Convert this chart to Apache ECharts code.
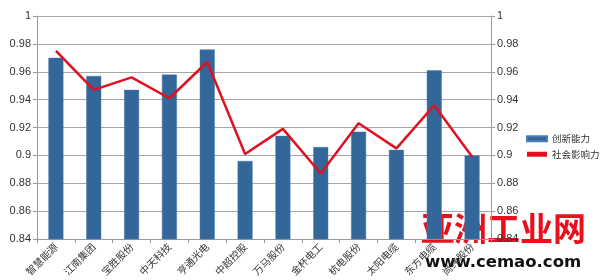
<!DOCTYPE html>
<html>
<head>
<meta charset="utf-8">
<style>
  html, body { margin: 0; padding: 0; background: #fff; }
  #chart { width: 600px; height: 280px; }
</style>
<script src="https://cdn.jsdelivr.net/npm/echarts@6/dist/echarts.min.js"></script>
</head>
<body>
<div id="chart"></div>
<script>
  // companies along the x axis
  var categories = ['智慧能源', '江南集团', '宝胜股份', '中天科技', '亨通光电', '中超控股',
    '万马股份', '金杯电工', '杭电股份', '太阳电缆', '东方电缆', '尚纬股份']
  // 创新能力 (bars)
  var innovation = [0.970, 0.957, 0.947, 0.958, 0.976, 0.896, 0.914, 0.906, 0.917, 0.904, 0.961, 0.900]
  // 社会影响力 (line)
  var influence = [0.975, 0.947, 0.956, 0.941, 0.967, 0.901, 0.919, 0.887, 0.923, 0.905, 0.936, 0.899]
  var axisMin = 0.84
  var axisMax = 1
  var axisStep = 0.02

  var chart = echarts.init(document.getElementById('chart'))

  var labelFont = {
    fontFamily: 'Liberation Sans, Arial, sans-serif',
    fontSize: 11,
    color: '#333'
  }

  function valueAxis(pos) {
    return {
      type: 'value',
      position: pos,
      min: axisMin,
      max: axisMax,
      interval: axisStep,
      axisLine: { show: true, lineStyle: { color: '#9a9a9a', width: 1 } },
      axisTick: { show: true, length: 4, lineStyle: { color: '#9a9a9a' } },
      axisLabel: Object.assign({
        margin: 6,
        formatter: function (v) { return String(+v.toFixed(2)) }
      }, labelFont),
      splitLine: { show: pos === 'left', lineStyle: { color: '#a6a6a6', width: 1 } }
    }
  }

  chart.setOption({
    backgroundColor: '#fff',
    animation: false,
    grid: {
      left: 37,
      right: 109,
      top: 16,
      bottom: 41
    },
    legend: {
      orient: 'vertical',
      left: 526,
      top: 134,
      padding: 0,
      itemWidth: 20,
      itemHeight: 5,
      itemGap: 6,
      icon: 'rect',
      textStyle: {
        fontFamily: 'Noto Sans CJK SC, sans-serif',
        fontSize: 9.5,
        color: '#333'
      },
      data: [
        { name: '创新能力', itemStyle: { color: '#336699' } },
        { name: '社会影响力', itemStyle: { color: '#e01020' } }
      ]
    },
    xAxis: {
      type: 'category',
      data: categories,
      axisLine: { lineStyle: { color: '#9a9a9a' } },
      axisTick: { show: true, length: 4, lineStyle: { color: '#9a9a9a' } },
      axisLabel: {
        rotate: 45,
        margin: 6,
        interval: 0,
        fontFamily: 'Noto Sans CJK SC, sans-serif',
        fontSize: 10,
        color: '#333'
      }
    },
    yAxis: [valueAxis('left'), valueAxis('right')],
    series: [
      {
        name: '创新能力',
        type: 'bar',
        yAxisIndex: 0,
        barWidth: 15,
        itemStyle: {
          color: '#336699',
          borderColor: '#4a7fb3',
          borderWidth: 0.5
        },
        data: innovation
      },
      {
        name: '社会影响力',
        type: 'line',
        yAxisIndex: 1,
        symbol: 'none',
        lineStyle: { color: '#e01020', width: 2.5 },
        itemStyle: { color: '#e01020' },
        data: influence
      }
    ],
    graphic: [
      {
        type: 'text',
        left: 421,
        top: 212,
        style: {
          text: '亚洲工业网',
          fontFamily: 'Noto Sans CJK SC, sans-serif',
          fontWeight: 'bold',
          fontSize: 33,
          fill: '#e8101c'
        }
      },
      {
        type: 'text',
        left: 425,
        top: 254,
        style: {
          text: 'www.cemao.com',
          fontFamily: 'DejaVu Sans, sans-serif',
          fontWeight: 'bold',
          fontSize: 16.5,
          fill: '#111'
        }
      }
    ]
  })
</script>
</body>
</html>
